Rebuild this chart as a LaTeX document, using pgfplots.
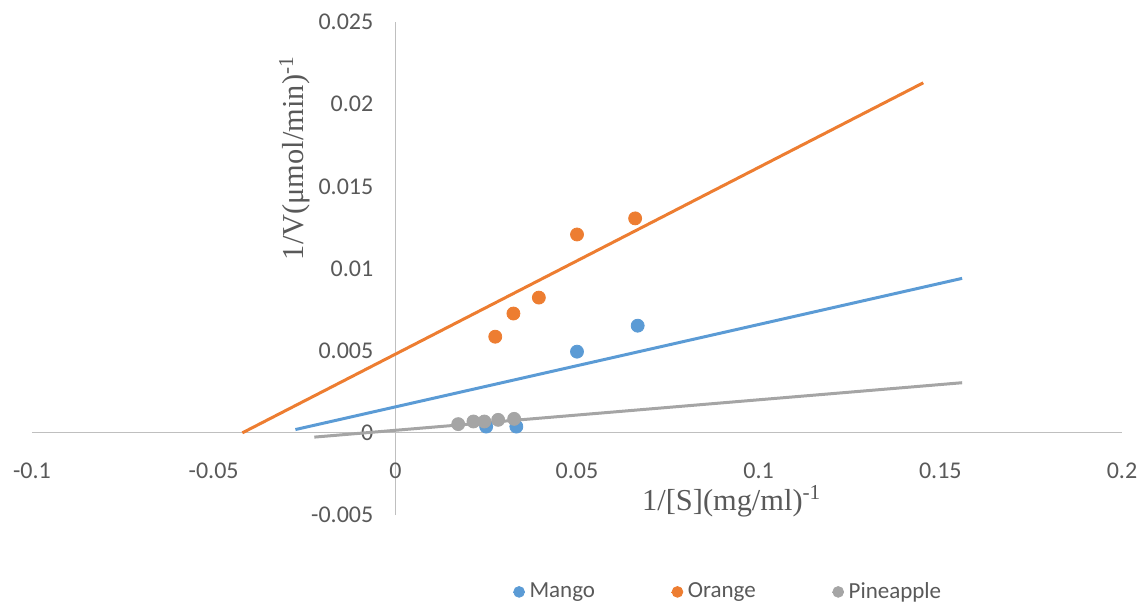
\documentclass[border=0pt]{standalone}
\usepackage{pgfplots}
\pgfplotsset{compat=1.18}
\usepackage{fontspec}
\setmainfont{Carlito}
\newfontfamily\titlefont{Liberation Serif}

\definecolor{mango}{HTML}{5B9BD5}
\definecolor{orangec}{HTML}{ED7D31}
\definecolor{pine}{HTML}{A5A5A5}
\definecolor{txt}{HTML}{595959}
\definecolor{axisgray}{HTML}{BFBFBF}

% scatter data
\pgfplotstableread{
x y
0.0250 0.00038
0.0333 0.00038
0.0500 0.00494
0.0667 0.00652
}\mango
\pgfplotstableread{
x y
0.0275 0.00585
0.0325 0.00726
0.0395 0.00823
0.0500 0.01207
0.0660 0.01305
}\orange
\pgfplotstableread{
x y
0.0173 0.00053
0.0215 0.00069
0.0245 0.00069
0.0283 0.00079
0.0327 0.00085
}\pineapple

\begin{document}
\begin{tikzpicture}
\begin{axis}[
    scale only axis,
    width=545pt, height=246.5pt,
    axis lines=middle,
    axis line style={-, draw=axisgray, line width=0.6pt},
    xmin=-0.1, xmax=0.2, ymin=-0.005, ymax=0.025,
    scaled x ticks=false, scaled y ticks=false,
    xtick={-0.1,-0.05,0,0.05,0.1,0.15,0.2},
    xticklabels={-0.1,-0.05,0,0.05,0.1,0.15,0.2},
    ytick={-0.005,0,0.005,0.01,0.015,0.02,0.025},
    yticklabels={-0.005,0,0.005,0.01,0.015,0.02,0.025},
    hide obscured x ticks=false, hide obscured y ticks=false,
    major tick length=0pt,
    tick label style={font=\fontsize{12}{14}\selectfont, text=txt},
    xticklabel style={anchor=center, yshift=-19pt},
    yticklabel style={anchor=east, xshift=-7.5pt},
    xlabel={\titlefont 1/[S](mg/ml)\textsuperscript{-1}},
    ylabel={\titlefont 1/V(μmol/min)\textsuperscript{-1}},
    label style={font=\fontsize{15.2}{17}\selectfont, text=txt},
    xlabel style={at={(axis description cs:0.642,0.028)}, anchor=center},
    ylabel style={at={(axis description cs:0.241,0.724)}, anchor=center, rotate=90},
    clip=false,
    legend columns=3,
    legend style={draw=none, fill=none, at={(axis description cs:0.6394,-0.156)}, anchor=center,
        font=\fontsize{11.5}{13}\selectfont, text=txt,
        /tikz/every even column/.append style={column sep=36pt}},
    legend image code/.code={\path (-3pt,0) -- (3pt,0);
        \draw[#1, mark size=2.7pt] plot coordinates {(0cm,0cm)};},
]
% linear trendlines (end points)
\addplot[mango, line width=1.5pt, forget plot] coordinates {(-0.0275,0.00020) (0.1560,0.00940)};
\addplot[orangec, line width=1.5pt, forget plot] coordinates {(-0.0421,0) (0.1453,0.02130)};
\addplot[pine, line width=1.5pt, forget plot] coordinates {(-0.0223,-0.00026) (0.1560,0.00305)};
% data points
\addplot[only marks, mark=*, mark size=3.25pt, mango, mark options={draw=mango, fill=mango}] table {\mango};
\addlegendentry{Mango}
\addplot[only marks, mark=*, mark size=3.25pt, orangec, mark options={draw=orangec, fill=orangec}] table {\orange};
\addlegendentry{Orange}
\addplot[only marks, mark=*, mark size=3.25pt, pine, mark options={draw=pine, fill=pine}] table {\pineapple};
\addlegendentry{Pineapple}
\end{axis}
\pgfresetboundingbox
\path ([shift={(-16pt,-44.5pt)}]current axis.south west) rectangle ([shift={(8.5pt,11pt)}]current axis.north east);
\end{tikzpicture}
\end{document}
